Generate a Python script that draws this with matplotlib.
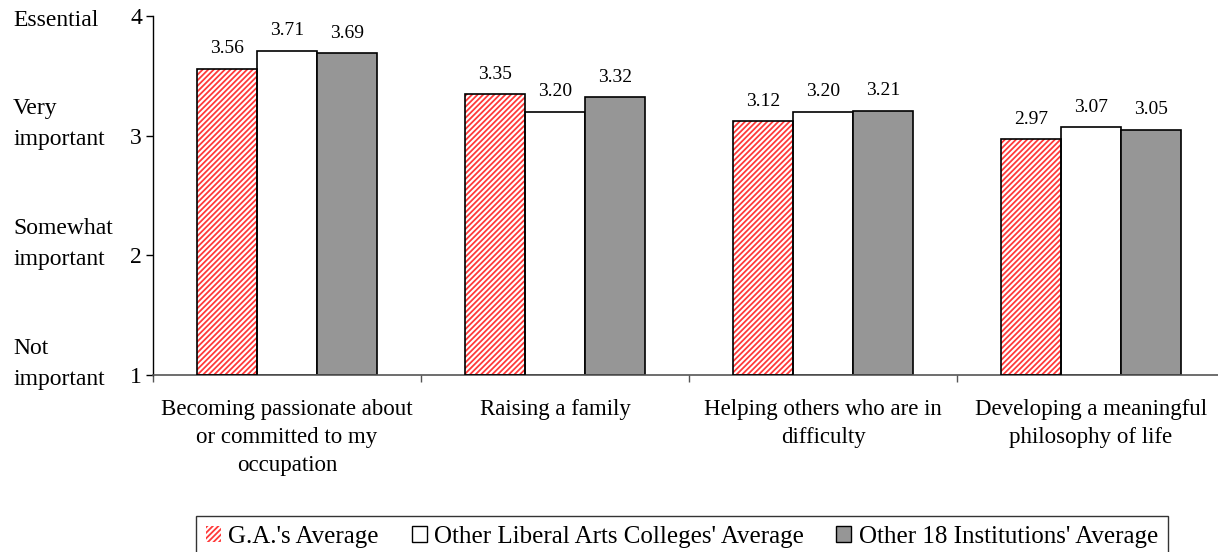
import matplotlib
matplotlib.use("Agg")
import matplotlib.pyplot as plt
import matplotlib.transforms as mtrans
import numpy as np
from matplotlib.patches import Patch

plt.rcParams['font.family'] = ['Liberation Serif', 'DejaVu Serif']
plt.rcParams['hatch.color'] = '#ff3a3a'
plt.rcParams['hatch.linewidth'] = 1.3

categories = ["Becoming passionate about\nor committed to my\noccupation",
              "Raising a family",
              "Helping others who are in\ndifficulty",
              "Developing a meaningful\nphilosophy of life"]
series_names = ["G.A.'s Average", "Other Liberal Arts Colleges' Average",
                "Other 18 Institutions' Average"]
ga_avg = [3.56, 3.35, 3.12, 2.97]
lac_avg = [3.71, 3.20, 3.20, 3.07]
inst_avg = [3.69, 3.32, 3.21, 3.05]
ytick_vals = [1, 2, 3, 4]
ytick_labels = ["Not\nimportant", "Somewhat\nimportant", "Very\nimportant", "Essential"]

W, H = 1218, 552
fig = plt.figure(figsize=(W / 100, H / 100), dpi=100)
ax = fig.add_axes([153 / W, (H - 375) / H, 4 * 268 / W, (375 - 16) / H])

x = np.arange(len(categories))
w = 0.224
styles = [dict(facecolor='white', hatch='//////', edgecolor='#ff3a3a'),
          dict(facecolor='white', edgecolor='black'),
          dict(facecolor='#969696', edgecolor='black')]
for i, vals in enumerate([ga_avg, lac_avg, inst_avg]):
    pos = x + (i - 1) * w
    st = styles[i]
    ax.bar(pos, np.array(vals) - 1, bottom=1, width=w, linewidth=0 if i == 0 else 1.2,
           **st, zorder=2)
    if i == 0:
        ax.bar(pos, np.array(vals) - 1, bottom=1, width=w, facecolor='none',
               edgecolor='black', linewidth=1.2, zorder=3)
    for p, v in zip(pos, vals):
        ax.annotate(f"{v:.2f}", (p, v), xytext=(0, 11), textcoords='offset points',
                    ha='center', va='baseline', fontsize=14)

ax.set_xlim(-0.5, len(categories) - 0.5)
ax.set_ylim(1, 4)
ax.set_yticks(ytick_vals)
ax.set_yticklabels([str(v) for v in ytick_vals], fontsize=17)

# descriptive y labels: last line aligned with tick
lab_tr = mtrans.blended_transform_factory(fig.transFigure, ax.transData)
for v, lab in zip(ytick_vals, ytick_labels):
    lines = lab.split("\n")
    n = len(lines)
    for k, line in enumerate(lines):
        off = (n - 1 - k) * 31 * 0.72  # points
        ax.annotate(line, (13 / W, v), xycoords=lab_tr, xytext=(0, off - 3),
                    textcoords='offset points', ha='left', va='center',
                    fontsize=17, annotation_clip=False)

ax.set_xticks(np.arange(-0.5, len(categories), 1))
ax.set_xticklabels([])
ax.set_xticks(x, minor=True)
ax.set_xticklabels(categories, minor=True, fontsize=16.5, linespacing=1.45)
ax.tick_params(axis='x', which='minor', length=0, pad=17)
ax.tick_params(axis='x', which='major', length=5, direction='out', width=1, color='#555555')
ax.tick_params(axis='y', length=5, direction='out', width=1, pad=3)

for s in ['top', 'right']:
    ax.spines[s].set_visible(False)
ax.spines['left'].set_linewidth(1)
ax.spines['bottom'].set_color('#555555')
ax.spines['bottom'].set_linewidth(1.2)

handles = [Patch(facecolor='white', hatch='//////', edgecolor='#ff3a3a', linewidth=0),
           Patch(facecolor='white', edgecolor='black', linewidth=1),
           Patch(facecolor='#969696', edgecolor='black', linewidth=1)]
leg = fig.legend(handles, series_names, loc='upper left',
                 bbox_to_anchor=(196 / W, 1 - 516 / H), ncol=3, frameon=True,
                 fancybox=False, edgecolor='black', fontsize=18,
                 handlelength=0.6, handleheight=0.6, handletextpad=0.3,
                 columnspacing=1.3, borderpad=0.4, borderaxespad=0)
leg.get_frame().set_linewidth(1)

fig.savefig("out.png", dpi=100)
